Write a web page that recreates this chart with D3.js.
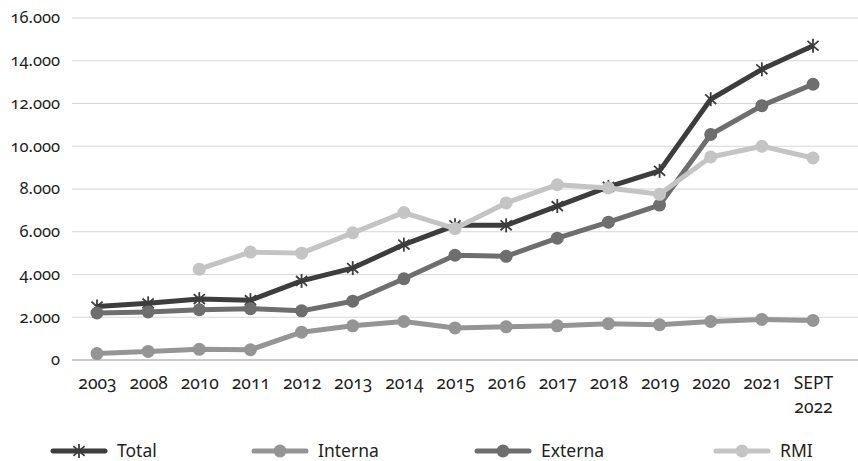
<!DOCTYPE html>
<html>
<head>
<meta charset="utf-8">
<script src="https://cdn.jsdelivr.net/npm/d3@7"></script>
<style>
  html, body { margin: 0; padding: 0; background: #fff; }
  svg text { font-family: "Noto Sans", "Open Sans", sans-serif; fill: #231f20;
             font-variant-numeric: oldstyle-nums; font-feature-settings: "onum" 1; }
</style>
</head>
<body>
<svg id="chart" width="858" height="461"></svg>
<script>
// Categories along the x axis (last one spans two lines)
const categories = ["2003","2008","2010","2011","2012","2013","2014","2015","2016","2017","2018","2019","2020","2021","SEPT 2022"];

// Series values
const total   = [2500, 2650, 2850, 2800, 3700, 4300, 5400, 6300, 6300, 7200, 8100, 8850, 12200, 13600, 14700];
const interna = [300, 400, 500, 480, 1300, 1600, 1800, 1500, 1550, 1600, 1700, 1650, 1800, 1900, 1850];
const externa = [2200, 2250, 2350, 2400, 2300, 2750, 3800, 4900, 4850, 5700, 6450, 7250, 10550, 11900, 12900];
const rmi     = [null, null, 4250, 5050, 5000, 5950, 6900, 6150, 7350, 8200, 8050, 7750, 9500, 10000, 9450];

const yTicks = [0, 2000, 4000, 6000, 8000, 10000, 12000, 14000, 16000];

const series = [
  { name: "Total",   values: total,   color: "#3d3d3d", marker: "star" },
  { name: "Interna", values: interna, color: "#959595", marker: "circle" },
  { name: "Externa", values: externa, color: "#6e6e6e", marker: "circle" },
  { name: "RMI",     values: rmi,     color: "#c4c4c4", marker: "circle" }
];

const svg = d3.select("#chart");
const plotLeft = 72, plotRight = 858, plotTop = 18, plotBottom = 360;

const x = d3.scalePoint().domain(categories).range([97, 813]);
const y = d3.scaleLinear().domain([0, 16000]).range([plotBottom, plotTop]);

const fmt = v => v === 0 ? "0" : d3.format(",")(v).replace(/,/g, ".");

// Horizontal gridlines
svg.append("g").selectAll("line").data(yTicks).join("line")
  .attr("x1", plotLeft).attr("x2", plotRight)
  .attr("y1", d => y(d)).attr("y2", d => y(d))
  .attr("stroke", d => d === 0 ? "#b8b8b8" : "#d6d6d6")
  .attr("stroke-width", d => d === 0 ? 1.6 : 1.1);

// Y axis labels
const yAxis = d3.axisLeft(y).tickValues(yTicks).tickFormat(fmt).tickSize(0).tickPadding(0);
const gy = svg.append("g").attr("transform", `translate(60,0)`).call(yAxis);
gy.select(".domain").remove();
gy.selectAll("text").attr("font-size", 16.5).attr("dy", "0.3em");

// X axis labels
const xAxis = d3.axisBottom(x).tickSize(0).tickPadding(0);
const gx = svg.append("g").attr("transform", `translate(0,${plotBottom})`).call(xAxis);
gx.select(".domain").remove();
gx.selectAll("text").each(function(d) {
  const t = d3.select(this).text("").attr("font-size", 17.5).attr("y", 0).attr("dy", null);
  d.split(" ").forEach((part, i) => {
    t.append("tspan").attr("x", 0).attr("y", 29 + i * 24).text(part);
  });
});

// Marker drawing
function drawMarker(g, type, color, cx, cy) {
  if (type === "circle") {
    g.append("circle").attr("cx", cx).attr("cy", cy).attr("r", 6.5).attr("fill", color);
  } else {
    const r = 7;
    const arms = [[0, -r, 0, r], [-r * 0.8, -r * 0.7, r * 0.8, r * 0.7], [-r * 0.8, r * 0.7, r * 0.8, -r * 0.7]];
    arms.forEach(a => g.append("line")
      .attr("x1", cx + a[0]).attr("y1", cy + a[1]).attr("x2", cx + a[2]).attr("y2", cy + a[3])
      .attr("stroke", color).attr("stroke-width", 1.8));
  }
}

const line = d3.line()
  .defined(d => d.v !== null)
  .x(d => x(d.c)).y(d => y(d.v));

series.forEach(s => {
  const pts = categories.map((c, i) => ({ c, v: s.values[i] }));
  const g = svg.append("g");
  g.append("path").datum(pts).attr("d", line)
    .attr("fill", "none").attr("stroke", s.color).attr("stroke-width", 5)
    .attr("stroke-linejoin", "round");
  pts.filter(p => p.v !== null).forEach(p => drawMarker(g, s.marker, s.color, x(p.c), y(p.v)));
});

// Legend
const legendX = [53, 254, 477, 716];
const legendY = 451;
series.forEach((s, i) => {
  const g = svg.append("g");
  const x0 = legendX[i];
  g.append("line").attr("x1", x0).attr("x2", x0 + 52).attr("y1", legendY).attr("y2", legendY)
    .attr("stroke", s.color).attr("stroke-width", 5).attr("stroke-linecap", "round");
  drawMarker(g, s.marker, s.color, x0 + 26, legendY);
  g.append("text").attr("x", x0 + 64).attr("y", legendY).attr("dy", "0.35em")
    .attr("font-size", 17.5).text(s.name);
});
</script>
</body>
</html>
